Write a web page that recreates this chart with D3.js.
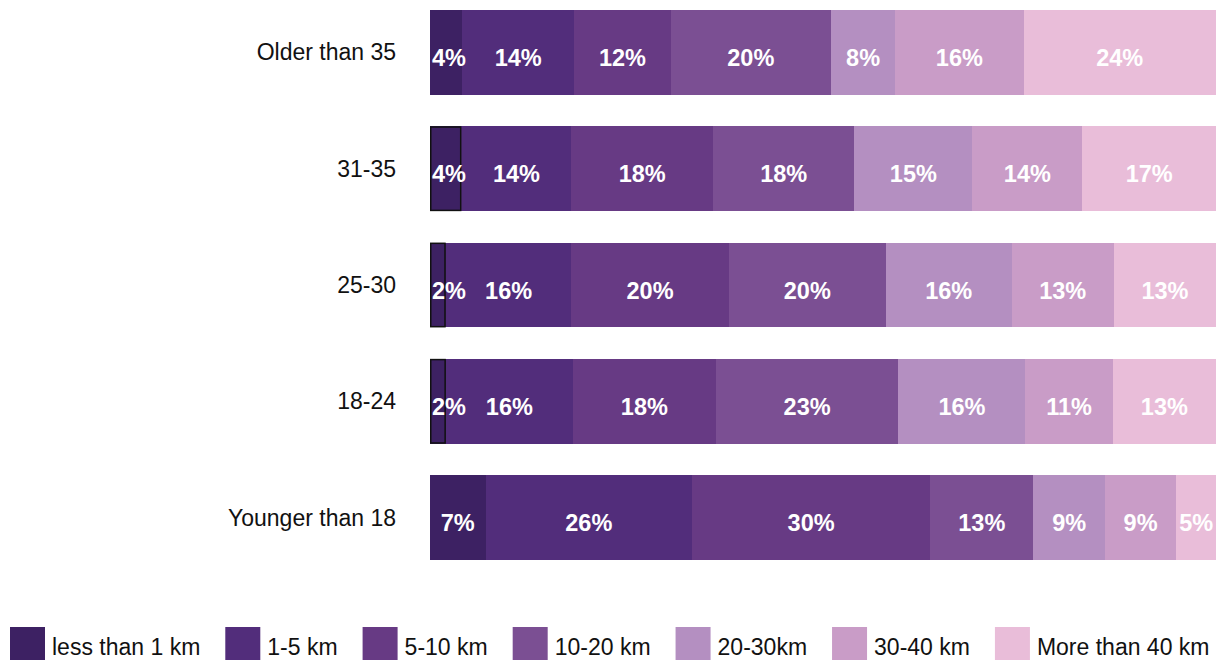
<!DOCTYPE html>
<html>
<head>
<meta charset="utf-8">
<script src="https://cdn.jsdelivr.net/npm/d3@7"></script>
<style>
  html, body { margin: 0; padding: 0; background: #fff; }
  svg { display: block; }
</style>
</head>
<body>
<svg id="chart" width="1226" height="660"></svg>
<script>
// Age groups, top to bottom
const ageGroups = ["Older than 35", "31-35", "25-30", "18-24", "Younger than 18"];

// Commute distance bands
const distanceBands = ["less than 1 km", "1-5 km", "5-10 km", "10-20 km", "20-30km", "30-40 km", "More than 40 km"];

// Share (%) of each distance band per age group, in the order of distanceBands
const olderThan35 = [4, 14, 12, 20, 8, 16, 24];
const age31to35   = [4, 14, 18, 18, 15, 14, 17];
const age25to30   = [2, 16, 20, 20, 16, 13, 13];
const age18to24   = [2, 16, 18, 23, 16, 11, 13];
const youngerThan18 = [7, 26, 30, 13, 9, 9, 5];

// Groups whose first segment is outlined
const outlinedGroups = ["31-35", "25-30", "18-24"];

const bandColors = ["#3d2163", "#522d7b", "#673a84", "#7b4f93", "#b48fc1", "#c99cc7", "#e9bdd9"];

const rows = [olderThan35, age31to35, age25to30, age18to24, youngerThan18].map((vals, i) => {
  const row = { group: ageGroups[i] };
  distanceBands.forEach((b, j) => { row[b] = vals[j]; });
  return row;
});

const svg = d3.select("#chart");

const x = d3.scaleLinear().domain([0, 1]).range([430, 1216]);
const y = d3.scaleBand().domain(ageGroups).range([10, 560]).paddingInner(0.27).paddingOuter(0);
const color = d3.scaleOrdinal().domain(distanceBands).range(bandColors);

// Each row is normalised to its own total
const series = d3.stack().keys(distanceBands).offset(d3.stackOffsetExpand)(rows);

const layers = svg.append("g")
  .attr("shape-rendering", "crispEdges")
  .selectAll("g")
  .data(series)
  .join("g")
  .attr("fill", d => color(d.key));

layers.selectAll("rect")
  .data(d => d.map(s => Object.assign(s, { key: d.key, index: d.index })))
  .join("rect")
  .attr("x", d => Math.round(x(d[0])))
  .attr("y", d => y(d.data.group))
  .attr("width", d => Math.round(x(d[1])) - Math.round(x(d[0])))
  .attr("height", y.bandwidth());

// Outline on the first segment of selected groups
svg.append("g")
  .selectAll("rect")
  .data(series[0].filter(d => outlinedGroups.includes(d.data.group)))
  .join("rect")
  .attr("x", d => x(d[0]) + 0.75)
  .attr("y", d => y(d.data.group) + 0.75)
  .attr("width", d => x(d[1]) - x(d[0]) - 1.5)
  .attr("height", y.bandwidth() - 1.5)
  .attr("fill", "none")
  .attr("stroke", "#111")
  .attr("stroke-width", 1.5);

// Value labels inside the segments
const labelFont = "bold 23.5px 'Liberation Sans', Arial, Helvetica, sans-serif";
const labels = svg.append("g")
  .attr("fill", "#fff")
  .style("font", labelFont)
  .attr("text-anchor", "middle");

series.forEach(s => {
  s.forEach(d => {
    const t = labels.append("text")
      .attr("y", y(d.data.group) + y.bandwidth() / 2 + 13.5)
      .text(d.data[s.key] + "%");
    const w = t.node().getComputedTextLength();
    const cx = (x(d[0]) + x(d[1])) / 2;
    t.attr("x", Math.max(cx, x(0) + w / 2 + 2));
  });
});

// Age group labels
svg.append("g")
  .selectAll("text")
  .data(ageGroups)
  .join("text")
  .attr("x", 396)
  .attr("y", d => y(d) + y.bandwidth() / 2 + 8)
  .attr("text-anchor", "end")
  .attr("fill", "#111")
  .style("font", "23px 'Liberation Sans', Arial, Helvetica, sans-serif")
  .text(d => d);

// Legend: swatch + label, laid out left to right
const legend = svg.append("g");
const swatch = 35, swatchGap = 7, itemGap = 25;
let lx = 10;
distanceBands.forEach(b => {
  legend.append("rect")
    .attr("x", lx).attr("y", 627)
    .attr("width", swatch).attr("height", 40)
    .attr("fill", color(b));
  const tx = lx + swatch + swatchGap;
  const t = legend.append("text")
    .attr("x", tx)
    .attr("y", 655)
    .attr("fill", "#111")
    .style("font", "23px 'Liberation Sans', Arial, sans-serif")
    .text(b);
  lx = tx + t.node().getComputedTextLength() + itemGap;
});
</script>
</body>
</html>
